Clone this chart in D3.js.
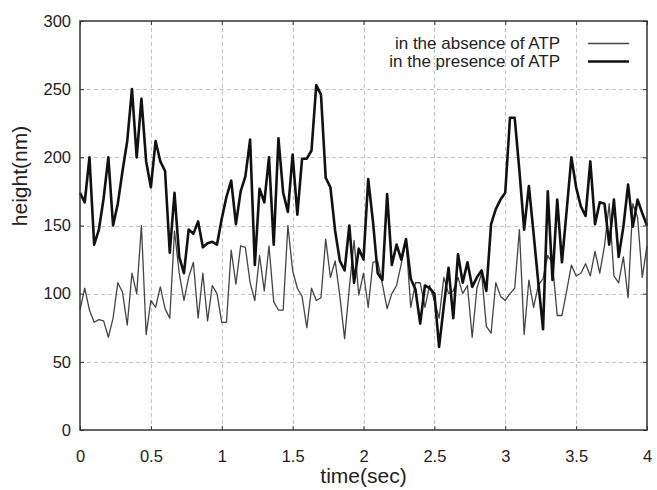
<!DOCTYPE html>
<html>
<head>
<meta charset="utf-8">
<script src="https://cdn.jsdelivr.net/npm/d3@7"></script>
<style>
  html, body { margin: 0; padding: 0; background: #fff; }
  svg { display: block; font-family: "Liberation Sans", Arial, sans-serif; }
</style>
</head>
<body>
<svg id="chart" width="657" height="490"></svg>
<script>
// ---- data ----
const sampleCount = 121;          // 0 .. 4 s, 30 samples per second
const sampleStep = 1 / 30;
const absenceATP = [
  88,104,88,79,81,80,68,82,108,101,77,115,100,150,70,95,90,105,89,82,
  146,115,95,112,123,82,115,80,106,100,79,79,132,107,135,134,108,95,128,102,
  135,94,88,88,150,117,104,98,75,104,95,97,140,112,124,98,67,104,139,99,
  115,90,123,124,107,89,100,106,122,139,90,108,108,90,106,95,82,112,100,102,
  112,100,106,68,104,115,76,71,108,98,95,100,104,147,70,110,90,106,111,128,
  122,84,84,102,121,113,115,122,113,131,115,135,166,113,108,127,97,166,156,112,
  135
];
const presenceATP = [
  174,167,200,136,147,170,200,150,166,190,212,250,200,243,197,178,212,197,190,130,
  174,127,115,147,144,153,134,137,138,136,155,171,183,151,175,186,213,121,177,167,
  200,136,214,174,160,202,158,199,199,205,253,246,185,178,146,124,117,150,108,133,
  125,184,153,115,110,173,121,136,125,140,111,103,78,106,104,100,61,91,119,82,
  129,108,123,105,112,117,102,151,162,169,174,229,229,190,147,179,144,108,74,175,
  110,169,123,161,200,178,164,157,197,151,167,166,136,169,127,149,180,149,169,159,
  150
];
const xTicks = [0, 0.5, 1, 1.5, 2, 2.5, 3, 3.5, 4];
const xTickLabels = ["0", "0.5", "1", "1.5", "2", "2.5", "3", "3.5", "4"];
const yTicks = [0, 50, 100, 150, 200, 250, 300];
const legendLabels = ["in the absence of ATP", "in the presence of ATP"];
const xTitle = "time(sec)";
const yTitle = "height(nm)";

// ---- layout ----
const L = 80, R = 647, T = 21, B = 430;
const svg = d3.select("#chart");
const x = d3.scaleLinear().domain([0, 4]).range([L, R]);
const y = d3.scaleLinear().domain([0, 300]).range([B, T]);
const times = d3.range(sampleCount).map(i => i * sampleStep);

const textColor = "#222";
svg.append("rect").attr("width", 657).attr("height", 490).attr("fill", "#fff");

// grid
const grid = svg.append("g").attr("stroke", "#c4c4c4").attr("stroke-width", 1)
  .attr("stroke-dasharray", "4,3");
grid.selectAll("line.gx").data(xTicks.slice(1, -1)).join("line")
  .attr("x1", d => Math.round(x(d)) + 0.5).attr("x2", d => Math.round(x(d)) + 0.5)
  .attr("y1", T).attr("y2", B);
grid.selectAll("line.gy").data(yTicks.slice(1, -1)).join("line")
  .attr("y1", d => Math.round(y(d)) + 0.5).attr("y2", d => Math.round(y(d)) + 0.5)
  .attr("x1", L).attr("x2", R);

// axes (inward ticks on all sides)
const tickLen = 4;
const axB = svg.append("g").attr("transform", `translate(0,${B})`)
  .call(d3.axisBottom(x).tickValues(xTicks).tickFormat((d, i) => xTickLabels[i]).tickSizeInner(-tickLen).tickSizeOuter(0).tickPadding(20));
const axT = svg.append("g").attr("transform", `translate(0,${T})`)
  .call(d3.axisTop(x).tickValues(xTicks).tickFormat("").tickSizeInner(-tickLen).tickSizeOuter(0));
const axL = svg.append("g").attr("transform", `translate(${L},0)`)
  .call(d3.axisLeft(y).tickValues(yTicks).tickSizeInner(-tickLen).tickSizeOuter(0).tickPadding(9));
const axR = svg.append("g").attr("transform", `translate(${R},0)`)
  .call(d3.axisRight(y).tickValues(yTicks).tickFormat("").tickSizeInner(-tickLen).tickSizeOuter(0));
[axB, axT, axL, axR].forEach(a => {
  a.select(".domain").remove();
  a.selectAll(".tick line").attr("stroke", "#333").attr("stroke-width", 1);
  a.selectAll("text").attr("fill", textColor).style("font-size", "16.5px")
    .style("font-family", '"Liberation Sans", Arial, sans-serif');
});

// series
const line = d3.line().x((d, i) => x(times[i])).y(d => y(d));
svg.append("path").datum(absenceATP).attr("d", line)
  .attr("fill", "none").attr("stroke", "#444").attr("stroke-width", 1.3)
  .attr("stroke-linejoin", "round");
svg.append("path").datum(presenceATP).attr("d", line)
  .attr("fill", "none").attr("stroke", "#111").attr("stroke-width", 2.6)
  .attr("stroke-linejoin", "round");

// frame
svg.append("rect").attr("x", L).attr("y", T).attr("width", R - L).attr("height", B - T)
  .attr("fill", "none").attr("stroke", "#333").attr("stroke-width", 1.5);

// titles
svg.append("text").attr("x", (L + R) / 2).attr("y", 483).attr("text-anchor", "middle")
  .attr("fill", textColor).style("font-size", "21px").text(xTitle);
svg.append("text").attr("transform", "translate(27,176) rotate(-90)").attr("text-anchor", "middle")
  .attr("fill", textColor).style("font-size", "21px").text(yTitle);

// legend
const legend = svg.append("g");
const legY = [49, 67];
const legStyles = [{c: "#444", w: 1.3}, {c: "#111", w: 2.6}];
legendLabels.forEach((lab, i) => {
  legend.append("text").attr("x", 560).attr("y", legY[i]).attr("text-anchor", "end")
    .attr("fill", textColor).style("font-size", "17px").text(lab);
  legend.append("line").attr("x1", 588).attr("x2", 629)
    .attr("y1", legY[i] - 5.5).attr("y2", legY[i] - 5.5)
    .attr("stroke", legStyles[i].c).attr("stroke-width", legStyles[i].w);
});
</script>
</body>
</html>
